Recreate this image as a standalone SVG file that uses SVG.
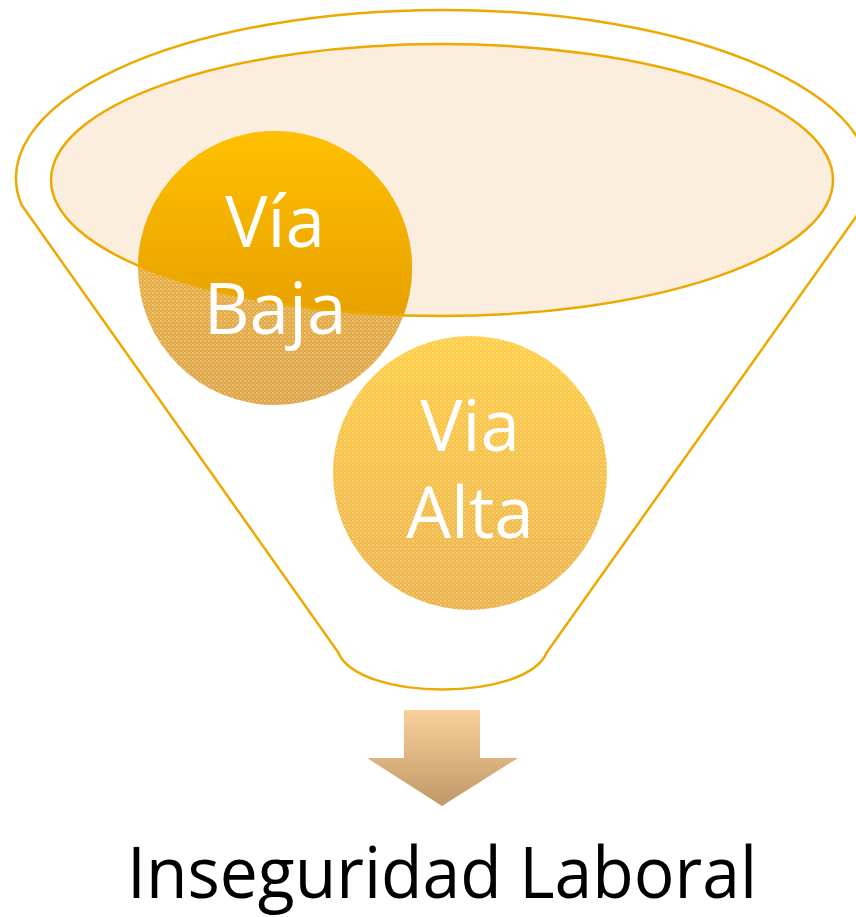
<svg xmlns="http://www.w3.org/2000/svg" width="856" height="917" viewBox="0 0 856 917">
<style>
.outline{fill:none;stroke:#EDA900;stroke-width:2.5}
.lbl{font-family:"Open Sans","Liberation Sans",sans-serif;font-size:71px;fill:#FFFFFF;text-anchor:middle}
.title{font-family:"Open Sans","Liberation Sans",sans-serif;font-size:72px;fill:#000000}
</style>
<defs>
<pattern id="dots" width="4" height="4" patternUnits="userSpaceOnUse">
<rect x="0" y="0" width="2" height="2" fill="#FFFFFF" fill-opacity="0.28"/>
<rect x="2" y="2" width="2" height="2" fill="#FFFFFF" fill-opacity="0.14"/>
</pattern>
<linearGradient id="gBaja" x1="0" y1="0" x2="0" y2="1">
<stop offset="0" stop-color="#FFC000"/>
<stop offset="1" stop-color="#DC9200"/>
</linearGradient>
<linearGradient id="gBajaLow" x1="0" y1="0" x2="0" y2="1">
<stop offset="0" stop-color="#F0B43A"/>
<stop offset="1" stop-color="#DDA445"/>
</linearGradient>
<linearGradient id="gAlta" x1="0" y1="0" x2="0" y2="1">
<stop offset="0" stop-color="#FFCD40"/>
<stop offset="1" stop-color="#EBB148"/>
</linearGradient>
<linearGradient id="gArrow" x1="0" y1="0" x2="0" y2="1">
<stop offset="0" stop-color="#FAD09A"/>
<stop offset="1" stop-color="#BF9868"/>
</linearGradient>
<clipPath id="clipLid">
<ellipse cx="442" cy="180" rx="391" ry="136"/>
</clipPath>
</defs>

<g id="funnel">
<path class="outline" d="M 21.6,205 A 427,168 0 1 1 864.4,205 L 547,652 C 527,702 358,702 338,652 Z"/>
</g>

<g id="lid">
<ellipse cx="442" cy="180" rx="391" ry="136" fill="#FBEBD9"/>
<ellipse cx="442" cy="180" rx="391" ry="136" fill="url(#dots)"/>
</g>

<g id="node-via-baja">
<circle cx="275" cy="268" r="137" fill="url(#gBajaLow)"/>
<circle cx="275" cy="268" r="137" fill="url(#dots)"/>
<circle cx="275" cy="268" r="137" fill="url(#gBaja)" clip-path="url(#clipLid)"/>
<ellipse cx="442" cy="180" rx="391" ry="136" class="outline"/>
<text class="lbl" x="275" y="247">Vía</text>
<text class="lbl" x="275" y="334">Baja</text>
</g>

<g id="node-via-alta">
<circle cx="470" cy="473" r="137" fill="url(#gAlta)"/>
<circle cx="470" cy="473" r="137" fill="url(#dots)"/>
<text class="lbl" x="470" y="451">Via</text>
<text class="lbl" x="470" y="538">Alta</text>
</g>

<g id="connectors">
<path d="M 404,710 L 480,710 L 480,758 L 518,758 L 442,806 L 367,758 L 404,758 Z" fill="url(#gArrow)"/>
</g>

<g id="node-result">
<text class="title" x="127" y="898" textLength="630" lengthAdjust="spacingAndGlyphs">Inseguridad Laboral</text>
</g>
</svg>
